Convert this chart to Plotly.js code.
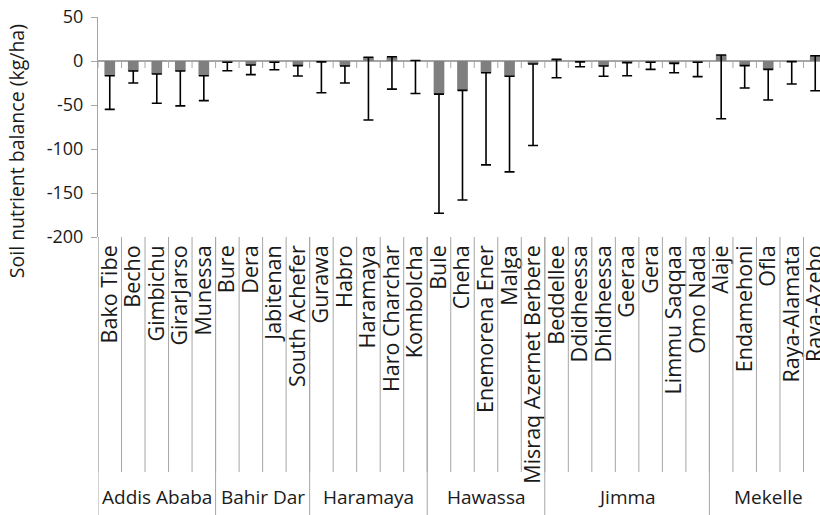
<!DOCTYPE html>
<html>
<head>
<meta charset="utf-8">
<script src="https://cdn.plot.ly/plotly-3.0.1.min.js"></script>
<style>
  html, body { margin: 0; padding: 0; overflow: hidden; background: #fff; }
  #chart { width: 840px; height: 515px; }
</style>
</head>
<body>
<div id="chart"></div>
<script>
// Research centres and the number of sites in each
const centres = ['Addis Ababa', 'Bahir Dar', 'Haramaya', 'Hawassa', 'Jimma', 'Mekelle'];
const centreSizes = [5, 4, 5, 5, 7, 5];

// Sites, in centre order
const sites = [
  'Bako Tibe', 'Becho', 'Gimbichu', 'GirarJarso', 'Munessa',
  'Bure', 'Dera', 'Jabitenan', 'South Achefer',
  'Gurawa', 'Habro', 'Haramaya', 'Haro Charchar', 'Kombolcha',
  'Bule', 'Cheha', 'Enemorena Ener', 'Malga', 'Misraq Azernet Berbere',
  'Beddellee', 'Ddidheessa', 'Dhidheessa', 'Geeraa', 'Gera', 'Limmu Saqqaa', 'Omo Nada',
  'Alaje', 'Endamehoni', 'Ofla', 'Raya-Alamata', 'Raya-Azebo'
];

// Mean soil nutrient balance (kg/ha) per site
const balance = [
  -16.7, -11.4, -14.8, -11.4, -16.7,
  -1.5, -4.5, -1.5, -5.3,
  -1.0, -5.7, 4.2, 4.9, 0.5,
  -37.6, -33.4, -13.3, -17.4, -3.4,
  1.9, -1.0, -5.7, -1.9, -1.5, -2.7, -1.5,
  6.8, -5.3, -9.5, -0.7, 6.0
];

// Standard deviation, drawn below the mean only
const spread = [
  38.3, 13.6, 33.2, 39.6, 28.3,
  9.5, 11.0, 8.5, 11.7,
  35.0, 19.3, 71.2, 36.9, 37.5,
  135.4, 124.6, 104.7, 108.6, 92.6,
  20.9, 5.5, 11.7, 14.8, 8.0, 10.6, 16.3,
  72.5, 25.4, 34.9, 25.5, 39.8
];

const yTicks = [50, 0, -50, -100, -150, -200];

const AXIS_GREY = '#a6a6a6';
const TEXT = '#1a1a1a';
const FONT = 'Open Sans, sans-serif';

const n = sites.length;

// Bars with one-sided (downward) error bars
const trace = {
  type: 'bar',
  x: sites,
  y: balance,
  marker: { color: '#7f7f7f' },
  error_y: {
    type: 'data',
    symmetric: false,
    array: balance.map(() => 0),
    arrayminus: spread,
    color: '#000',
    thickness: 1.6,
    width: 5
  },
  hoverinfo: 'x+y'
};

const shapes = [];
// thin separators between site labels, plus short ticks on the zero line
for (let k = 0; k <= n; k++) {
  shapes.push({
    type: 'line', layer: 'above',
    xref: 'x', x0: k - 0.5, x1: k - 0.5,
    yref: 'paper', ysizemode: 'pixel', yanchor: 0, y0: 0, y1: -235,
    line: { color: AXIS_GREY, width: 1 }
  });
  shapes.push({
    type: 'line', layer: 'above',
    xref: 'x', x0: k - 0.5, x1: k - 0.5,
    yref: 'y', ysizemode: 'pixel', yanchor: 0, y0: 0, y1: -7,
    line: { color: AXIS_GREY, width: 1 }
  });
}

// longer dividers between centres, and the centre names
const annotations = [];
let start = 0;
const bounds = [0];
centres.forEach((c, i) => {
  const size = centreSizes[i];
  annotations.push({
    text: c, showarrow: false,
    xref: 'x', x: start + (size - 1) / 2,
    yref: 'paper', y: 0, yanchor: 'middle', yshift: -260,
    font: { family: FONT, size: 19, color: TEXT }
  });
  start += size;
  bounds.push(start);
});
bounds.forEach(b => {
  shapes.push({
    type: 'line', layer: 'above',
    xref: 'x', x0: b - 0.5, x1: b - 0.5,
    yref: 'paper', ysizemode: 'pixel', yanchor: 0, y0: 0, y1: -280,
    line: { color: AXIS_GREY, width: 1 }
  });
});

// y-axis title
annotations.push({
  text: 'Soil nutrient balance (kg/ha)', showarrow: false, textangle: -90,
  xref: 'paper', x: 0, xanchor: 'center', xshift: -82,
  yref: 'paper', y: 0.39, yanchor: 'middle',
  font: { family: FONT, size: 19.5, color: TEXT }
});

const layout = {
  width: 840,
  height: 515,
  margin: { l: 98, r: 13, t: 17, b: 278, pad: 0 },
  paper_bgcolor: '#fff',
  plot_bgcolor: '#fff',
  showlegend: false,
  bargap: 0.545,
  font: { family: FONT, color: TEXT },
  xaxis: {
    type: 'category',
    categoryorder: 'array',
    categoryarray: sites,
    range: [-0.5, n - 0.5],
    tickmode: 'linear',
    tick0: 0,
    dtick: 1,
    tickangle: -90,
    ticks: '',
    showline: false,
    showgrid: false,
    zeroline: false,
    automargin: false,
    ticklabelstandoff: 3,
    tickfont: { family: FONT, size: 21.5, color: TEXT }
  },
  yaxis: {
    range: [-200, 50],
    tickmode: 'array',
    tickvals: yTicks,
    ticktext: yTicks.map(String),
    ticks: 'outside',
    ticklen: 6,
    tickcolor: AXIS_GREY,
    showline: true,
    linecolor: AXIS_GREY,
    linewidth: 1,
    showgrid: false,
    zeroline: true,
    zerolinecolor: AXIS_GREY,
    zerolinewidth: 1.5,
    automargin: false,
    ticklabelstandoff: 4,
    tickfont: { family: FONT, size: 18, color: TEXT }
  },
  shapes: shapes,
  annotations: annotations
};

Plotly.newPlot('chart', [trace], layout, { displayModeBar: false, staticPlot: true });
</script>
</body>
</html>
